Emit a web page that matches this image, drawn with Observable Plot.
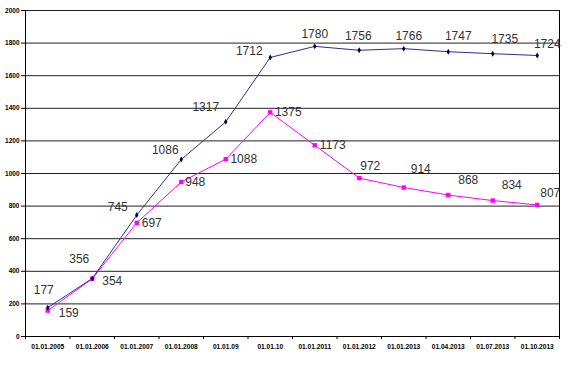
<!DOCTYPE html>
<html>
<head>
<meta charset="utf-8">
<script src="https://cdn.jsdelivr.net/npm/d3@7"></script>
<script src="https://cdn.jsdelivr.net/npm/@observablehq/plot@0.6"></script>
<style>
  html, body { margin: 0; padding: 0; background: #fff; }
  #chart svg { display: block; }
</style>
</head>
<body>
<div id="chart"></div>
<script>
// ---- data ----
const categories = ["01.01.2005","01.01.2006","01.01.2007","01.01.2008","01.01.09","01.01.10",
  "01.01.2011","01.01.2012","01.01.2013","01.04.2013","01.07.2013","01.10.2013"];
const seriesBlue = [177, 356, 745, 1086, 1317, 1712, 1780, 1756, 1766, 1747, 1735, 1724];
const seriesPink = [159, 354, 697, 948, 1088, 1375, 1173, 972, 914, 868, 834, 807];
const yTicks = [0, 200, 400, 600, 800, 1000, 1200, 1400, 1600, 1800, 2000];

// ---- label layout offsets (px) ----
const blueDx = [-4, -13, -19, -16, -20, -21, 0, -1, 5, 10, 12, 10];
const blueDy = [-17, -19, -8, -9, -15, -6, -12, -14, -12, -16, -15, -11];
const pinkDx = [21, 20, 15, 14, 18, 18, 18, 11, 17, 20, 19, 13];
const pinkDy = [3, 2, 0, 0, 0, 0, 0, -12, -18, -15, -15, -12];

const blue = categories.map((c, i) => ({i: i + 0.5, v: seriesBlue[i], dx: blueDx[i], dy: blueDy[i]}));
const pink = categories.map((c, i) => ({i: i + 0.5, v: seriesPink[i], dx: pinkDx[i], dy: pinkDy[i]}));

const blueColor = "#2E2E8C";
const pinkColor = "#FF00FF";
const labelFont = "Liberation Sans, Arial, sans-serif";

const marks = [
  Plot.gridY(yTicks.filter(d => d > 0), {stroke: "#222", strokeOpacity: 1, strokeWidth: 1}),
  Plot.ruleY([0], {stroke: "#000"}),
  Plot.ruleX([0], {stroke: "#000"}),
  Plot.ruleX([categories.length], {stroke: "#000", y1: 0, y2: 2000}),
  Plot.axisY({ticks: yTicks, tickSize: 4, tickPadding: 2, tickFormat: d => String(d), label: null,
    fontSize: 6.5, fontWeight: "bold", fill: "#000", stroke: "#000"}),
  Plot.axisX({ticks: d3.range(0, categories.length + 1), tickSize: 3, tickFormat: () => "", label: null, stroke: "#000"}),
  Plot.axisX({ticks: categories.map((c, i) => i + 0.5), tickSize: 0, tickPadding: 8, label: null,
    tickFormat: d => categories[Math.round(d - 0.5)], fontSize: 6.6, fontWeight: "bold", fill: "#000"}),
  Plot.line(pink, {x: "i", y: "v", stroke: pinkColor, strokeWidth: 1}),
  Plot.line(blue, {x: "i", y: "v", stroke: blueColor, strokeWidth: 1}),
  Plot.dot(pink, {x: "i", y: "v", symbol: "square", r: 2.5, fill: pinkColor, stroke: null}),
  Plot.dot(blue, {x: "i", y: "v", symbol: "diamond", r: 1.8, fill: "#000050", stroke: null}),
  ...blue.map(d => Plot.text([d], {x: "i", y: "v", text: d => String(d.v), dx: d.dx, dy: d.dy,
    fontSize: 12, fontFamily: labelFont, fill: "#333"})),
  ...pink.map(d => Plot.text([d], {x: "i", y: "v", text: d => String(d.v), dx: d.dx, dy: d.dy,
    fontSize: 12, fontFamily: labelFont, fill: "#333"}))
];

const chart = Plot.plot({
  width: 576,
  height: 369,
  marginLeft: 25,
  marginRight: 17,
  marginTop: 10,
  marginBottom: 33,
  style: {fontFamily: "Liberation Sans, Arial, sans-serif", background: "#fff"},
  x: {type: "linear", domain: [0, categories.length], axis: null, label: null},
  y: {type: "linear", domain: [0, 2000], axis: null, label: null},
  marks
});
document.getElementById("chart").appendChild(chart);
</script>
</body>
</html>
